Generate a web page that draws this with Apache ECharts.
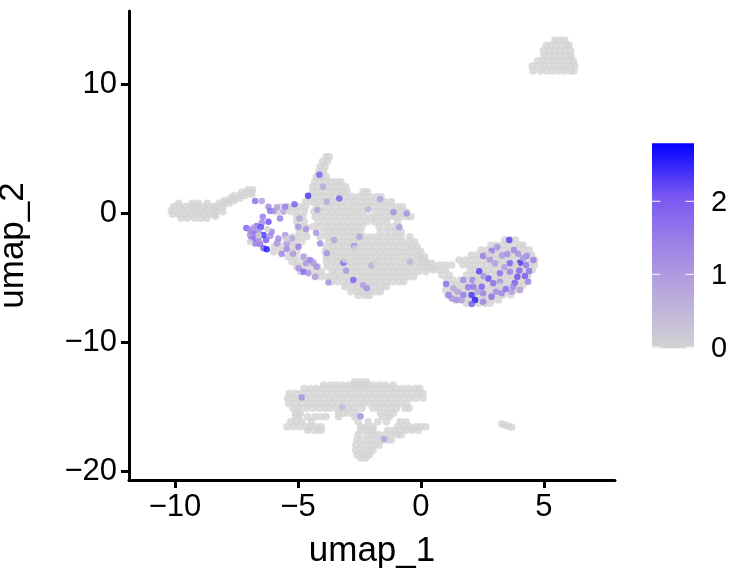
<!DOCTYPE html>
<html><head><meta charset="utf-8">
<style>html,body{margin:0;padding:0;background:#fff}#c{width:734px;height:573px}</style>
<script src="https://cdn.jsdelivr.net/npm/echarts@6/dist/echarts.min.js"></script>
</head><body><div id="c"></div>
<script>
const xTicks=[-10,-5,0,5];
const yTicks=[-20,-10,0,10];
const legendTicks=[0,1,2];
const maxValue=2.79;
// Each row: [umap_2, [umap_1 values]] for non-expressing cells
const islandTopRight=[
[13.4,[5.45,5.65,5.85]],
[13.0,[5.1,5.3,5.5,5.72,5.92,6.02]],
[12.6,[4.98,5.2,5.42,5.64,5.85,6.08]],
[12.2,[5.0,5.25,5.45,5.7,5.9,6.1]],
[11.8,[4.75,4.95,5.18,5.4,5.62,5.85,6.05,6.2]],
[11.4,[4.52,4.75,5.0,5.22,5.45,5.68,5.9,6.1,6.25]],
[11.0,[4.55,4.85,5.1,5.35,5.6,5.85,6.1,6.22]]];
const islandLeft=[
[0.75,[-9.85,-9.3,-9.05,-8.7]],
[0.5,[-10.05,-9.8,-9.55,-9.3,-9.05,-8.8,-8.55,-8.4]],
[0.2,[-10.15,-9.95,-9.7,-9.45,-9.2,-8.95,-8.7,-8.45,-8.3]],
[-0.1,[-10.1,-9.85,-9.6,-9.35,-9.1,-8.85,-8.6,-8.4]],
[-0.4,[-9.75,-9.5,-9.2,-8.95,-8.7]],
[0.47,[-8.25,-8.05]],[0.75,[-8.2,-8.0,-7.8]],[0.95,[-8.0,-7.8,-7.6]],
[1.15,[-7.75,-7.55,-7.35]],[1.35,[-7.6,-7.35,-7.15]],[1.6,[-7.3,-7.1,-6.9]],[1.8,[-7.05,-6.85]],[1.45,[-6.88]],
[-0.25,[-8.35]],[0.1,[-8.05]]];
const mainBlob=[
[4.36,[-3.85,-3.72]],[4.0,[-4.0,-3.8]],[3.59,[-4.1,-3.9]],[3.2,[-4.15,-3.95]],
[2.81,[-4.25,-4.02,-3.85]],
[2.42,[-4.32,-4.1,-3.88,-3.66,-3.45,-3.25]],
[2.04,[-4.4,-4.2,-3.98,-3.75,-3.55,-3.3,-3.05]],
[1.65,[-4.4,-4.15,-3.9,-3.65,-3.42,-3.2,-3.0,-2.35,-2.18]],
[1.26,[-4.5,-4.3,-4.05,-3.8,-3.55,-3.3,-3.05,-2.8,-2.55,-2.3,-2.05,-1.8,-1.62]],
[0.87,[-4.7,-4.45,-4.2,-3.95,-3.7,-3.45,-3.2,-2.95,-2.7,-2.45,-2.2,-1.95,-1.7,-1.45,-1.2]],
[0.49,[-5.7,-5.4,-5.2,-4.95,-4.7,-4.25,-3.95,-3.7,-3.45,-3.2,-2.95,-2.7,-2.45,-2.2,-1.95,-1.7,-1.45,-1.2,-0.95,-0.75]],
[0.1,[-5.85,-5.3,-5.05,-4.75,-4.35,-4.1,-3.85,-3.6,-3.35,-3.1,-2.85,-2.6,-2.35,-1.85,-1.6,-1.35,-1.1,-0.85,-0.6]],
[-0.29,[-5.05,-4.8,-4.3,-4.05,-3.8,-3.55,-3.3,-3.05,-2.8,-2.55,-2.3,-2.05,-1.8,-1.55,-1.3,-1.05,-0.8,-0.55,-0.4]],
[-0.68,[-5.05,-4.75,-4.2,-3.95,-3.7,-3.45,-3.2,-2.95,-2.7,-2.45,-2.2,-1.9,-1.65,-1.4,-0.95]],
[-1.06,[-5.0,-4.7,-4.4,-4.15,-3.85,-3.6,-3.35,-3.1,-2.85,-2.6,-2.4,-1.7,-1.4,-1.15,-0.9]],
[-1.45,[-4.95,-4.7,-3.95,-3.7,-3.45,-3.2,-2.95,-2.7,-2.45,-1.65,-1.35,-1.05,-0.8]],
[-1.84,[-5.5,-5.2,-4.95,-4.65,-4.1,-3.8,-3.55,-3.3,-3.05,-2.8,-2.55,-2.3,-2.05,-1.8,-1.55,-1.3,-1.05,-0.8,-0.45]],
[-2.23,[-5.8,-5.45,-5.15,-4.85,-3.75,-3.5,-3.25,-3.0,-2.75,-2.5,-2.25,-2.0,-1.75,-1.5,-1.25,-1.0,-0.75,-0.5,-0.25]],
[-2.61,[-5.95,-5.65,-5.35,-5.1,-3.85,-3.6,-3.35,-3.1,-2.85,-2.6,-2.35,-2.1,-1.85,-1.6,-1.35,-1.1,-0.85,-0.6,-0.35,-0.15]],
[-3.0,[-6.0,-5.7,-5.3,-5.05,-3.9,-3.65,-3.4,-3.15,-2.9,-2.65,-2.4,-2.15,-1.9,-1.65,-1.4,-1.15,-0.9,-0.65,-0.4,-0.15,0.0]],
[-3.39,[-5.4,-5.1,-4.75,-3.85,-3.6,-3.35,-3.1,-2.85,-2.6,-2.35,-2.1,-1.85,-1.6,-1.35,-1.1,-0.85,-0.6,-0.35,-0.1,0.15]],
[-3.78,[-5.25,-5.0,-4.7,-4.4,-3.85,-3.6,-3.35,-3.1,-2.85,-2.6,-2.35,-2.1,-1.85,-1.6,-1.35,-1.1,-0.85,-0.6,-0.35,-0.1,0.2]],
[-4.16,[-5.05,-4.8,-4.5,-4.2,-3.8,-3.5,-3.25,-3.0,-2.75,-2.5,-2.25,-2.0,-1.75,-1.5,-1.25,-1.0,-0.75,-0.5,-0.25,0.0,0.2]],
[-4.55,[-4.9,-4.6,-4.3,-4.05,-3.6,-3.35,-3.1,-2.85,-2.6,-2.35,-2.1,-1.85,-1.6,-1.35,-1.1,-0.85,-0.6,-0.35,-0.1,0.2]],
[-4.94,[-4.3,-4.05,-3.8,-3.55,-3.3,-3.05,-2.8,-2.55,-2.3,-2.05,-1.8,-1.55,-1.3,-1.05,-0.8,-0.55,-0.3]],
[-5.33,[-3.65,-3.4,-3.15,-2.9,-2.65,-2.4,-2.15,-1.9,-1.65,-1.4,-1.15,-0.9,-0.7]],
[-5.71,[-3.1,-2.85,-2.6,-2.35,-2.1,-1.85,-1.6,-1.4]],
[-6.1,[-2.85,-2.6,-2.35,-2.1,-1.85,-1.65]],
[-6.4,[-2.55,-2.3,-2.1]],
[-3.55,[0.0,0.15]],[-3.9,[0.25,0.45]],[-4.25,[0.35,0.55]]];
const blobRight=[
[-2.1,[3.4,3.62,3.85]],
[-2.5,[2.85,3.05,3.3,3.55,3.8,4.05,4.15]],
[-2.87,[2.45,2.7,2.95,3.2,3.45,3.7,3.95,4.2,4.4]],
[-3.26,[2.05,2.3,2.55,2.8,3.05,3.3,3.55,3.8,4.05,4.3,4.5]],
[-3.64,[1.55,1.8,2.05,2.3,2.55,2.8,3.05,3.3,3.55,3.8,4.05,4.3,4.62]],
[-4.03,[0.75,1.0,1.25,1.7,1.95,2.2,2.45,2.7,2.95,3.2,3.45,3.7,3.95,4.2,4.45,4.62]],
[-4.42,[0.5,0.75,1.0,2.0,2.25,2.5,2.75,3.0,3.25,3.5,3.75,4.0,4.25,4.52]],
[-4.8,[0.85,1.15,1.85,2.1,2.35,2.6,2.85,3.1,3.35,3.6,3.85,4.1,4.35]],
[-5.2,[1.05,1.3,1.6,1.85,2.1,2.35,2.6,2.85,3.1,3.35,3.6,3.85,4.1,4.3]],
[-5.6,[1.2,1.45,1.7,1.95,2.2,2.45,2.7,2.95,3.2,3.45,3.7,3.95,4.15]],
[-5.97,[1.0,1.3,1.55,1.8,2.05,2.3,2.55,2.8,3.05,3.3,3.55,3.8,4.0]],
[-6.36,[1.1,1.35,1.6,1.85,2.1,2.35,2.6,2.85,3.1,3.35,3.65]],
[-6.75,[1.4,1.65,1.9,2.15,2.4,2.65,2.9,3.15]],
[-7.0,[1.85,2.1,2.35,2.6,2.8]]];
const islandBottom=[
[-13.08,[-2.7,-2.45,-2.22]],
[-13.34,[-3.95,-3.7,-3.45,-3.2,-2.95,-2.7,-2.45,-2.2,-1.95,-1.7,-1.45,-1.15]],
[-13.6,[-4.75,-4.5,-4.25,-4.0,-3.75,-3.5,-3.25,-3.0,-2.75,-2.5,-2.25,-2.0,-1.75,-1.5,-1.25,-1.0,-0.75,-0.5,-0.25,-0.05]],
[-13.98,[-5.35,-5.1,-4.85,-4.6,-4.35,-4.1,-3.85,-3.6,-3.35,-3.1,-2.85,-2.6,-2.35,-2.1,-1.85,-1.6,-1.35,-1.1,-0.85,-0.6,-0.35,-0.1,0.08]],
[-14.37,[-5.42,-5.2,-4.95,-4.7,-4.45,-4.2,-3.95,-3.7,-3.45,-3.2,-2.95,-2.7,-2.45,-2.2,-1.95,-1.7,-1.45,-1.2,-0.95,-0.7,-0.45,-0.2,0.08]],
[-14.76,[-5.38,-5.1,-4.85,-4.6,-4.35,-4.1,-3.85,-3.6,-3.35,-3.1,-2.85,-2.6,-2.35,-2.1,-1.85,-1.6,-1.35,-1.1,-0.85,-0.58]],
[-15.14,[-5.2,-4.95,-4.65,-4.4,-4.15,-3.9,-3.7,-3.45,-3.2,-2.95,-2.7,-2.4,-1.95,-1.7,-1.45,-1.2,-1.0,-0.65,-0.48]],
[-15.53,[-5.1,-4.9,-3.35,-3.15,-2.95,-2.65,-1.65,-1.35,-1.12]],
[-15.8,[-5.1,-4.95,-4.6,-4.3,-4.08,-3.85,-3.35,-2.7,-1.55,-1.28]],
[-16.18,[-5.3,-5.05,-4.85,-4.45,-2.55,-2.15,-1.75,-1.4,-0.85,-0.6]],
[-16.57,[-5.45,-5.2,-4.95,-4.7,-4.5,-4.25,-4.05,-2.45,-2.2,-1.95,-0.95,-0.7,-0.45,-0.2,0.0,0.2]],
[-16.85,[-4.6,-4.35,-4.15,-4.05,-2.45,-2.2,-1.95,-1.35,-1.1,-0.85,-0.6,-0.35,-0.1]],
[-17.2,[-2.55,-2.2,-1.95,-1.7,-1.45,-1.2,-0.95,-0.8]],
[-17.6,[-2.6,-2.35,-2.1,-1.85,-1.6,-1.35,-1.2]],
[-18.0,[-2.65,-2.4,-2.15,-1.9,-1.7]],
[-18.4,[-2.65,-2.4,-2.15,-1.95]],
[-18.76,[-2.6,-2.35,-2.1]],
[-19.0,[-2.45,-2.25]],
[-16.36,[3.28]],[-16.44,[3.42]],[-16.54,[3.55]],[-16.62,[3.69]]];
// [umap_1, umap_2, expression]
const expressedMain=[
[-4.13,2.97,2.0],[-4.59,1.34,2.4],[-3.98,2.04,0.8],[-6.74,0.93,1.8],[-6.47,0.93,1.0],[-6.2,0.49,1.4],[-6.13,0.15,1.8],[-6.0,0.15,1.3],
[-5.86,0.44,1.0],[-5.52,0.49,1.6],[-5.14,0.67,2.0],[-5.59,0.1,0.9],[-5.73,-0.42,1.6],[-6.43,-0.29,1.6],[-6.2,-0.68,2.2],[-6.47,-0.75,1.4],
[-7.1,-1.17,2.0],[-6.68,-1.01,1.8],[-6.51,-1.11,2.2],[-6.88,-1.45,1.5],[-6.74,-1.58,1.7],[-6.61,-1.45,1.2],[-6.88,-1.97,2.1],[-6.68,-1.97,1.6],
[-6.3,-2.1,2.1],[-6.4,-1.71,2.4],[-6.07,-1.45,1.5],[-6.13,-1.79,1.4],[-6.74,-2.36,1.7],[-6.54,-2.41,1.7],[-6.4,-2.74,2.0],[-6.27,-2.82,2.6],
[-5.8,-1.97,1.3],[-5.52,-1.71,1.0],[-5.86,-2.36,1.1],[-5.46,-2.79,1.4],[-5.66,-3.18,1.4],[-5.25,-1.97,0.9],[-4.98,-2.61,1.6],[-4.98,-1.06,1.2],
[-4.94,-0.42,0.9],[-4.67,-1.24,1.2],[-4.26,-1.53,1.2],[-4.21,0.23,0.9],[-3.83,0.87,0.8],[-4.1,-2.36,1.4],[-3.53,-2.1,0.9],[-4.78,-3.39,1.0],
[-4.51,-3.65,1.6],[-4.67,-3.9,1.1],[-4.24,-4.16,1.3],[-4.37,-3.9,1.1],[-4.98,-4.29,1.2],[-4.78,-4.55,1.9],[-4.58,-4.68,1.1],[-4.3,-4.94,1.0],
[-3.76,-5.38,1.2],[-2.72,-2.56,1.3],[-3.15,-3.85,1.9],[-3.04,-4.47,1.1],[-2.75,-5.2,2.0],[-2.2,-5.84,1.2],[-2.35,-5.6,1.0],[-1.66,1.06,0.9],
[-2.14,0.28,0.7],[-1.12,0.05,1.2],[-0.58,-0.03,1.2],[-0.88,-1.11,1.0],[-2.5,-1.84,0.9],[-3.83,-3.13,1.2],[-2.0,-4.05,0.7],[-0.45,-3.78,0.6],
[-3.32,1.13,2.0],[-6.95,-1.3,1.3],[-6.8,-1.15,1.1],[-6.6,-1.8,1.5],[-6.95,-1.7,1.2],[-6.6,-2.1,1.1],[-5.45,-2.35,1.0],[-5.2,-3.15,1.1]];
const expressedRight=[
[3.59,-2.1,2.3],[3.1,-2.66,1.2],[2.87,-2.92,1.6],[2.53,-3.34,1.6],[3.51,-3.18,1.3],[3.78,-2.87,1.4],[4.03,-3.85,2.4],[4.3,-3.34,1.4],
[4.57,-3.65,1.5],[4.27,-4.03,1.6],[3.62,-3.9,2.0],[3.01,-3.9,1.0],[2.8,-3.59,1.2],[2.37,-4.52,2.3],[2.74,-5.07,2.2],[3.21,-4.68,1.7],
[3.62,-4.55,1.5],[3.92,-4.94,2.2],[4.23,-4.89,2.1],[4.36,-5.33,1.5],[3.82,-5.4,2.0],[3.21,-5.33,1.2],[2.94,-5.45,1.8],[2.47,-5.71,2.0],
[2.13,-5.71,1.6],[1.92,-5.76,1.6],[1.72,-5.2,1.3],[2.1,-5.2,1.4],[1.02,-5.51,1.8],[1.32,-5.84,0.8],[1.72,-6.36,1.6],[1.45,-6.75,1.3],
[1.25,-6.62,1.2],[1.12,-6.35,1.5],[2.06,-6.36,2.4],[2.2,-6.75,2.6],[2.06,-7.06,2.0],[2.53,-6.23,1.5],[2.87,-6.49,1.8],[3.28,-6.23,1.4],
[3.69,-6.1,1.0],[1.65,-6.75,1.0],[3.45,-5.9,1.8],[4.03,-5.97,0.9],[2.53,-6.88,1.5],[3.3,-3.3,1.1],[3.95,-3.15,1.2],[4.4,-4.5,1.7],
[3.4,-4.2,1.0],[4.0,-4.45,1.9],[2.55,-4.9,1.2],[2.3,-6.1,1.0],[3.05,-6.1,1.3],[3.75,-5.7,1.4],[1.5,-6.1,0.9],[4.15,-3.5,1.1]];
const expressedBottom=[[-4.85,-14.3,1.2],[-2.45,-15.75,1.3],[-1.5,-17.55,0.9],[-3.2,-15.05,0.5]];
const covering=[[-6.6,-1.75],[-6.25,-1.25],[-6.95,-2.25],[-5.45,-2.0],[3.2,-5.65],[2.3,-5.35],[3.85,-4.05],[2.75,-3.2],[-3.1,-3.62],[-1.85,-3.95],[-2.7,-2.75]];

const expand=rows=>rows.flatMap(([y,xs])=>xs.map(x=>[x,y,0]));
const baseCells=[...islandTopRight,...islandLeft,...mainBlob,...blobRight,...islandBottom];
const stops=['#D3D3D3','#BBACDC','#9E84E6','#7655F2','#0000FF'];
const fam='"Liberation Sans",Arial,sans-serif';

// colour bar geometry
const barL=652,barR=694,barTop=143.3,barBot=348.3,zeroY=347.3,unit=73;
const barGraphics=[{type:'rect',silent:true,shape:{x:barL,y:barTop,width:barR-barL,height:barBot-barTop},
 style:{fill:new echarts.graphic.LinearGradient(0,1,0,0,stops.map((c,i)=>({offset:i/(stops.length-1),color:c})))}}];
legendTicks.forEach(v=>{
 const y=zeroY-v*unit;
 [[barL,barL+8.4],[barR-8.4,barR]].forEach(([a,b])=>barGraphics.push({type:'line',silent:true,shape:{x1:a,y1:y,x2:b,y2:y},style:{stroke:'#fff',lineWidth:1}}));
 barGraphics.push({type:'text',silent:true,style:{x:711,y:y+2,text:String(v),fill:'#000',font:'29px '+fam,textVerticalAlign:'middle'}});
});

const fmt=v=>String(v).replace('-','\u2212');
const axisCommon={axisLine:{show:true,onZero:false,lineStyle:{color:'#000',width:3}},
 splitLine:{show:false},nameLocation:'middle',
 nameTextStyle:{fontFamily:fam,fontSize:35,color:'#000'}};
const chart=echarts.init(document.getElementById('c'),null,{renderer:'canvas'});
chart.setOption({animation:false,backgroundColor:'#fff',
 grid:{left:129,right:119,top:11,bottom:93,outerBoundsMode:'none'},
 xAxis:{...axisCommon,type:'value',name:'umap_1',nameGap:54,min:-11.87,max:7.89,
  axisTick:{show:true,length:8,customValues:xTicks,lineStyle:{color:'#000',width:3}},
  axisLabel:{customValues:xTicks,formatter:fmt,fontFamily:fam,fontSize:31,color:'#000',margin:12}},
 yAxis:{...axisCommon,type:'value',name:'umap_2',nameGap:98,min:-20.7,max:15.66,
  axisTick:{show:true,length:8,customValues:yTicks,lineStyle:{color:'#000',width:3}},
  axisLabel:{customValues:yTicks,formatter:fmt,fontFamily:fam,fontSize:31,color:'#000',margin:12}},
 visualMap:{show:false,type:'continuous',min:0,max:maxValue,dimension:2,seriesIndex:[0,1,2],inRange:{color:stops}},
 graphic:barGraphics,
 series:[
  {type:'scatter',silent:true,symbolSize:7.5,progressive:0,data:expand(baseCells)},
  {type:'scatter',silent:true,symbolSize:6.5,progressive:0,data:[...expressedMain,...expressedRight,...expressedBottom]},
  {type:'scatter',silent:true,symbolSize:6.5,progressive:0,data:covering.map(p=>[p[0],p[1],0])}
 ]});
</script></body></html>
